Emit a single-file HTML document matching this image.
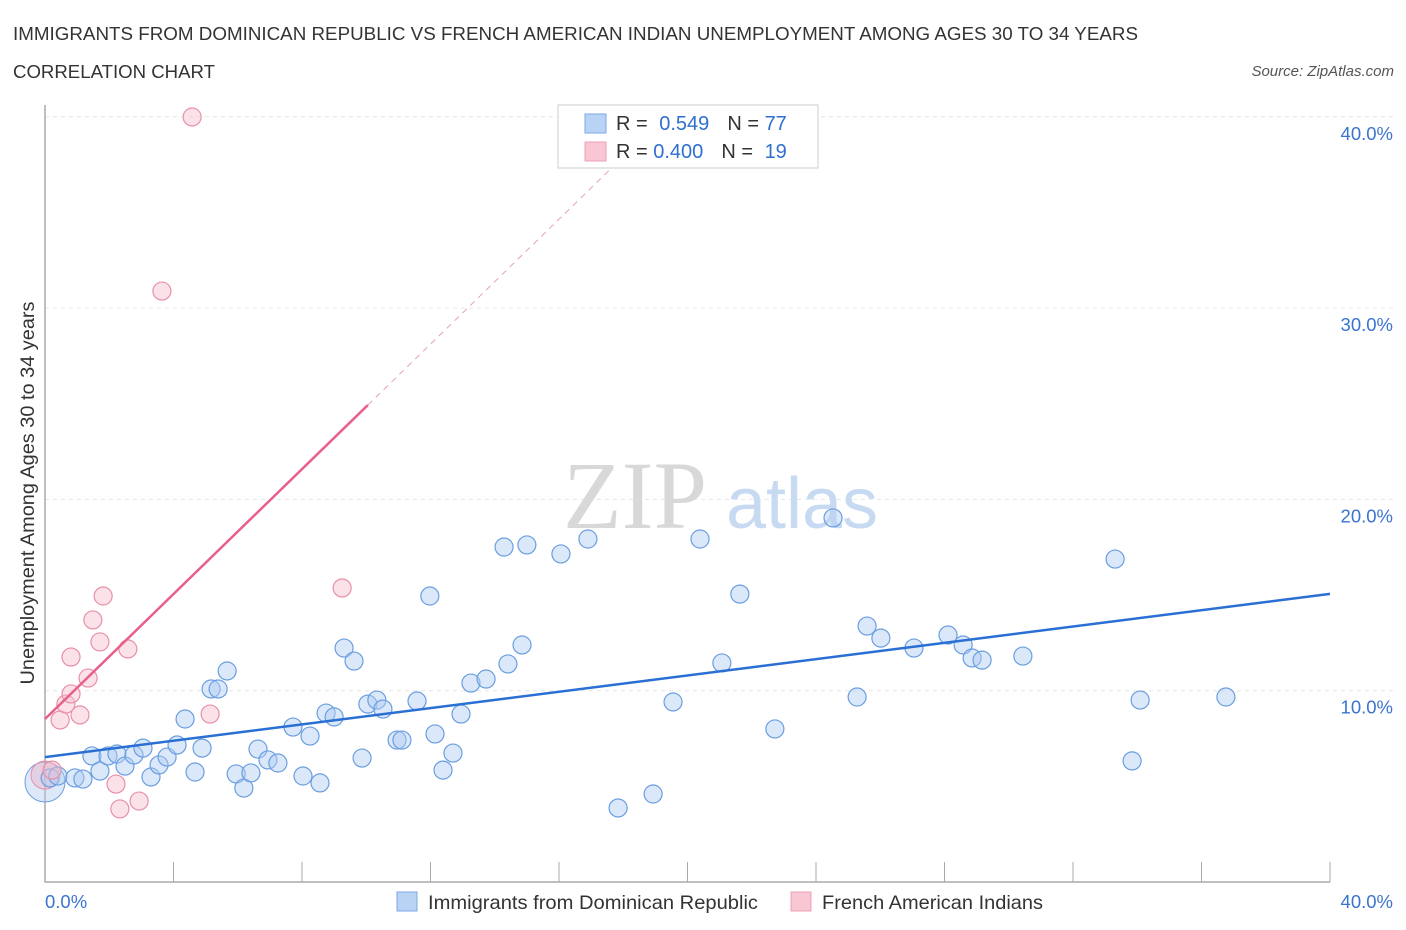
<!DOCTYPE html>
<html><head><meta charset="utf-8">
<style>
body{margin:0;background:#fff;font-family:"Liberation Sans",sans-serif;}
svg{display:block}
</style></head>
<body>
<svg id="chart" width="1406" height="930">
<text x="13" y="40" font-size="18" fill="#333" textLength="1125" lengthAdjust="spacingAndGlyphs">IMMIGRANTS FROM DOMINICAN REPUBLIC VS FRENCH AMERICAN INDIAN UNEMPLOYMENT AMONG AGES 30 TO 34 YEARS</text>
<text x="13" y="78" font-size="18" fill="#333" textLength="202" lengthAdjust="spacingAndGlyphs">CORRELATION CHART</text>
<text x="1394" y="76" font-size="15" fill="#555" font-style="italic" text-anchor="end">Source: ZipAtlas.com</text>
<g id="grid"></g>
<text x="635" y="528" font-size="96" fill="#d8d8d8" font-family="Liberation Serif,serif" text-anchor="middle">ZIP</text>
<text x="802" y="528" font-size="72" fill="#c8daf2" text-anchor="middle">atlas</text>
<g id="marks"></g>
<text x="34" y="493" font-size="19" fill="#333" text-anchor="middle" textLength="383" lengthAdjust="spacingAndGlyphs" transform="rotate(-90 34 493)">Unemployment Among Ages 30 to 34 years</text>
<g>
<rect x="558" y="105" width="260" height="63" fill="#fff" stroke="#ccc"/>
<rect x="585" y="114" width="21" height="19" fill="#b9d3f5" stroke="#7aa8e6"/>
<rect x="585" y="142" width="21" height="19" fill="#f9c6d4" stroke="#eea0b6"/>
<text x="616" y="130" font-size="20" fill="#333">R = <tspan fill="#2f6fd0" dx="6">0.549</tspan><tspan dx="18" fill="#333">N = </tspan><tspan fill="#2f6fd0">77</tspan></text>
<text x="616" y="158" font-size="20" fill="#333">R = <tspan fill="#2f6fd0">0.400</tspan><tspan dx="18" fill="#333">N = </tspan><tspan fill="#2f6fd0" dx="6">19</tspan></text>
</g>
<g>
<rect x="397" y="892" width="20" height="19" fill="#b9d3f5" stroke="#7aa8e6"/>
<text x="428" y="909" font-size="19.5" fill="#333" textLength="330" lengthAdjust="spacingAndGlyphs">Immigrants from Dominican Republic</text>
<rect x="791" y="892" width="20" height="19" fill="#f9c6d4" stroke="#eea0b6"/>
<text x="822" y="909" font-size="19.5" fill="#333" textLength="221" lengthAdjust="spacingAndGlyphs">French American Indians</text>
</g>
</svg>
<script>
const yTicks=[10,20,30,40];
const yTickLabels=["10.0%","20.0%","30.0%","40.0%"];
const xEdgeLabels=["0.0%","40.0%"];
const blueX=[0.16,0.40,0.93,1.18,1.46,1.71,1.96,2.24,2.49,2.77,3.05,3.30,3.55,3.80,4.11,4.36,4.67,4.89,5.17,5.39,5.67,5.95,6.19,6.41,6.63,6.94,7.25,7.72,8.03,8.25,8.56,8.75,9.00,9.31,9.62,9.87,10.05,10.33,10.52,10.96,11.11,11.58,11.98,12.14,12.39,12.70,12.95,13.26,13.73,14.41,14.29,14.85,15.00,16.06,16.90,17.84,18.93,19.55,20.39,21.07,21.63,22.72,24.53,25.28,25.59,26.02,27.05,28.11,28.58,28.86,29.17,30.44,33.31,33.84,34.09,36.76];
const blueY=[5.44,5.54,5.44,5.38,6.59,5.80,6.59,6.69,6.06,6.64,7.00,5.49,6.12,6.53,7.16,8.52,5.75,7.00,10.09,10.09,11.03,5.65,4.91,5.70,6.95,6.38,6.22,8.10,5.54,7.63,5.18,8.83,8.63,12.23,11.55,6.48,9.30,9.51,9.04,7.42,7.42,9.46,14.95,7.74,5.85,6.74,8.78,10.40,10.61,11.40,17.51,12.39,17.62,17.15,17.93,3.87,4.60,9.41,17.93,11.45,15.05,8.00,19.03,9.67,13.38,12.75,12.23,12.91,12.39,11.71,11.60,11.81,16.88,6.33,9.51,9.67];
const pinkX=[0.22,0.47,0.65,0.81,1.09,1.34,0.81,1.49,1.71,1.81,2.58,2.21,2.33,2.93,3.64,4.58,5.14,9.25];
const pinkY=[5.85,8.47,9.30,9.83,8.73,10.66,11.76,13.70,12.55,14.95,12.18,5.12,3.82,4.23,30.89,39.99,8.78,15.37];
const blueTrend=[6.53,15.06];
const pinkTrend=[8.52,1.633];
const NS="http://www.w3.org/2000/svg";
const X=v=>45+v*32.125, Y=v=>882-v*19.13;
function mk(t,a,p){const e=document.createElementNS(NS,t);for(const k in a)e.setAttribute(k,a[k]);p.appendChild(e);return e;}
const grid=document.getElementById('grid'), marks=document.getElementById('marks');
yTicks.forEach((t,i)=>{
 const l=mk('line',{x1:45,x2:1395,y1:Y(t),y2:Y(t),stroke:'#e6e6e6','stroke-dasharray':'4,4'},grid);
 
 
 const tx=mk('text',{x:1393,y:Y(t)+23,'font-size':18.5,fill:'#3a74d0','text-anchor':'end'},grid);
 tx.textContent=yTickLabels[i];
 
 
});
const ax=mk('path',{d:'M45 105 V882 H1330',stroke:'#aaa',fill:'none','stroke-width':1.5},grid);


for(let i=0;i<=10;i++){const t=mk('line',{x1:X(i*4),x2:X(i*4),y1:862,y2:882,stroke:'#aaa'},grid);
 
 }
[[0,'start',45],[40,'end',1393]].forEach((d,i)=>{const t=mk('text',{x:d[2],y:908,'font-size':18.5,fill:'#3a74d0','text-anchor':d[1]},grid);t.textContent=xEdgeLabels[i];
 
 });
let bc=mk('circle',{cx:X(0),cy:Y(5.23),r:20,fill:'rgba(170,200,240,0.4)',stroke:'#6a9ee0'},marks);


let pc=mk('circle',{cx:X(0),cy:Y(5.59),r:14,fill:'rgba(240,170,195,0.4)',stroke:'#e890a8'},marks);


blueX.forEach((x,i)=>{const c=mk('circle',{cx:X(x),cy:Y(blueY[i]),r:9,fill:'rgba(175,205,242,0.45)',stroke:'#6a9ee0','stroke-width':1.2},marks);
 
 });
pinkX.forEach((x,i)=>{const c=mk('circle',{cx:X(x),cy:Y(pinkY[i]),r:9,fill:'rgba(245,190,205,0.45)',stroke:'#e890a8','stroke-width':1.2},marks);
 
 });
const bl=mk('line',{x1:X(0),y1:Y(blueTrend[0]),x2:X(40),y2:Y(blueTrend[1]),stroke:'#2a6fd4','stroke-width':2.5},marks);


const pl=mk('line',{x1:X(0),y1:Y(pinkTrend[0]),x2:X(10.05),y2:Y(pinkTrend[0]+pinkTrend[1]*10.05),stroke:'#e8608a','stroke-width':2.5},marks);


const pd=mk('line',{x1:X(10.05),y1:Y(pinkTrend[0]+pinkTrend[1]*10.05),x2:X(17.8),y2:Y(pinkTrend[0]+pinkTrend[1]*17.8),stroke:'#e8a0b8','stroke-width':1,'stroke-dasharray':'6,5'},marks);


</script>
</body></html>
